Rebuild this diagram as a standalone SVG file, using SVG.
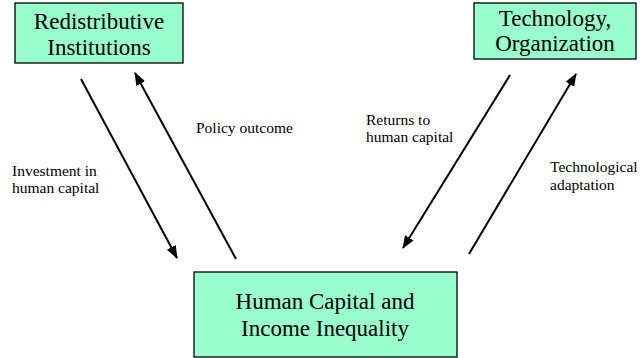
<svg xmlns="http://www.w3.org/2000/svg" width="640" height="358" viewBox="0 0 640 358">
<defs>
<style>
text{font-family:'Liberation Serif','DejaVu Serif',serif}
.box{fill:#99ffcc;stroke:#000;stroke-width:1.3}
.big{font-size:23px;fill:#000;text-anchor:middle}
.lbl{font-size:15.5px;fill:#000}
.ln{stroke:#000;stroke-width:2;fill:none;marker-end:url(#ah)}
</style>
<marker id="ah" markerWidth="14" markerHeight="12" refX="12" refY="5" orient="auto" markerUnits="userSpaceOnUse" viewBox="0 0 14 10">
<path d="M0,0 L13,5 L0,10 z" fill="#000"/>
</marker>
</defs>
<rect width="640" height="358" fill="#fff"/>
<g id="redistributive">
<rect class="box" x="15" y="3" width="168" height="60"/>
<text class="big" x="99" y="29" style="font-family:'Liberation Serif',serif">Redistributive</text>
<text class="big" x="99" y="55" style="font-family:'Liberation Serif',serif">Institutions</text>
</g>
<g id="technology">
<rect class="box" x="474" y="3" width="162" height="56"/>
<text class="big" x="555" y="26">Technology,</text>
<text class="big" x="555" y="51">Organization</text>
</g>
<g id="humancapital">
<rect class="box" x="194" y="272" width="263" height="85"/>
<text class="big" x="325" y="309">Human Capital and</text>
<text class="big" x="325" y="336">Income Inequality</text>
</g>
<g id="connectors">
<line class="ln" x1="81" y1="79" x2="177" y2="258"/>
<line class="ln" x1="236" y1="259" x2="135" y2="73"/>
<line class="ln" x1="510" y1="75" x2="403" y2="248"/>
<line class="ln" x1="469" y1="254" x2="576" y2="74"/>
</g>
<g id="labels">
<text class="lbl" x="196" y="133">Policy outcome</text>
<text class="lbl" x="12" y="176">Investment in</text>
<text class="lbl" x="12" y="193">human capital</text>
<text class="lbl" x="366" y="125">Returns to</text>
<text class="lbl" x="366" y="142">human capital</text>
<text class="lbl" x="550" y="172">Technological</text>
<text class="lbl" x="550" y="190">adaptation</text>
</g>
</svg>
